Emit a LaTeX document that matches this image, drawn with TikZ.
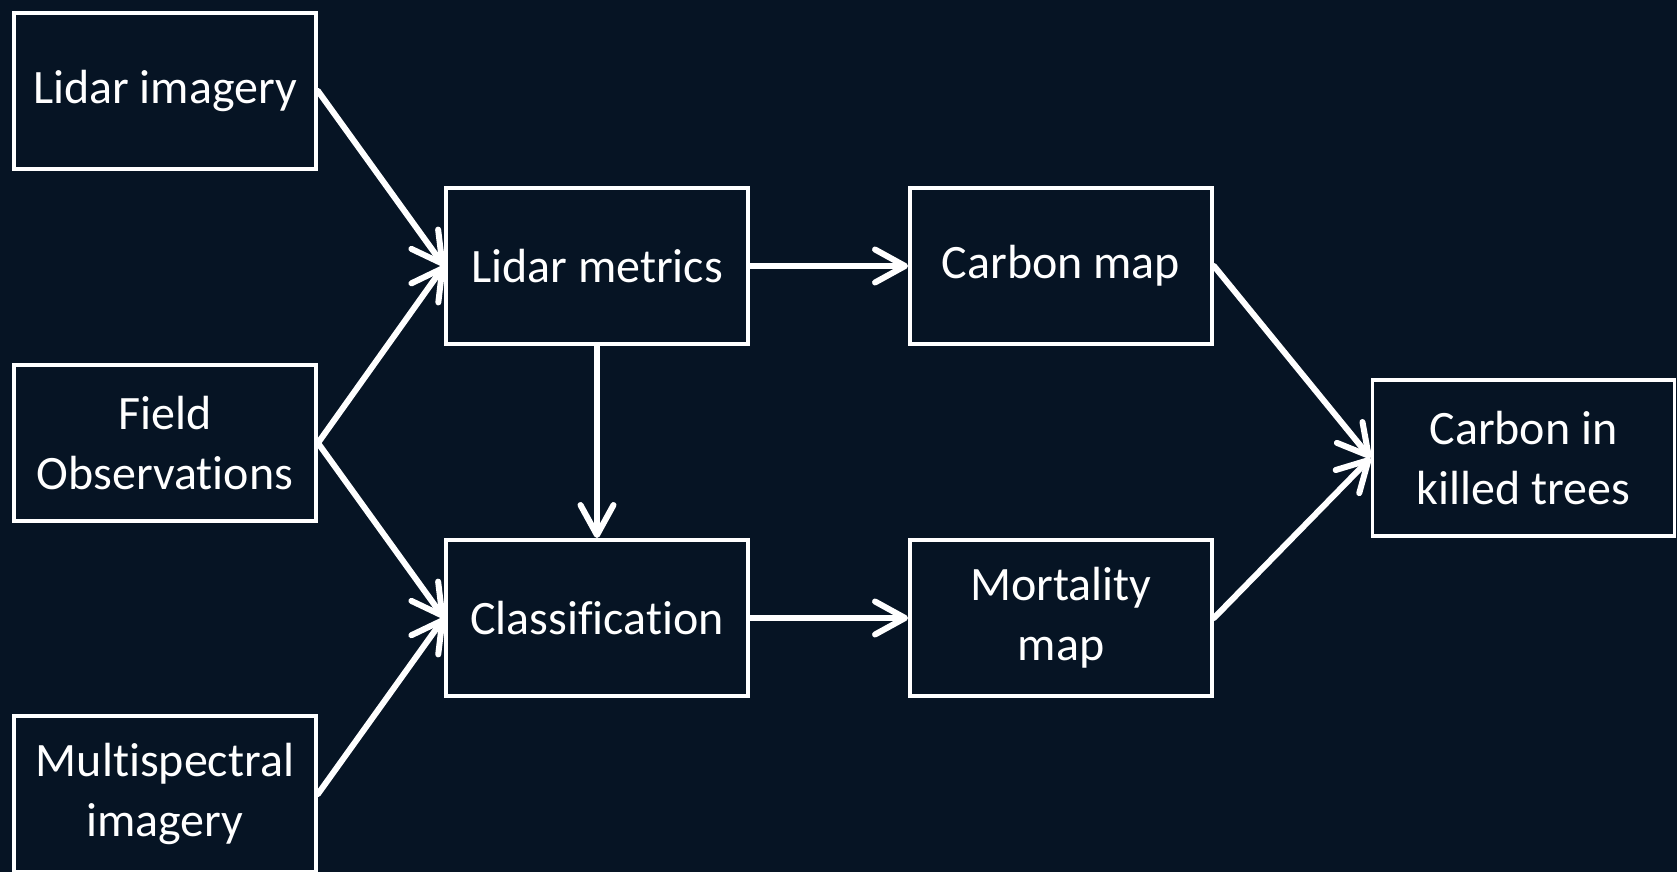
\documentclass[tikz,border=0pt]{standalone}
\usepackage{fontspec}
\setmainfont{Carlito}[Ligatures=NoCommon]
\usepackage{xcolor}
\usetikzlibrary{arrows.meta}
\definecolor{bgnavy}{RGB}{6,20,36}

\begin{document}
\begin{tikzpicture}[x=0.02cm, y=-0.02cm,
  box/.style={draw=white, line width=0.07cm, fill=bgnavy, text=white,
    minimum width=6.05cm, minimum height=3.13cm, inner sep=0pt, align=center,
    font=\fontsize{27.3}{34}\selectfont},
  flow/.style={draw=white, line width=0.12cm, line cap=round,
    -{Straight Barb[length=0.6cm, width=0.66cm, line cap=round, line join=round]}}]
\fill[bgnavy] (0,0) rectangle (1677,872);
\useasboundingbox (0,0) rectangle (1677,872);
% inputs
\node[box] (lidarimg) at (165,91) {Lidar imagery};
\node[box] (field) at (165,443) {Field\\Observations};
\node[box] (multi) at (165,794) {Multispectral\\imagery};
% products
\node[box] (metrics) at (597,266) {Lidar metrics};
\node[box] (classif) at (597,618) {Classification};
\node[box] (carbonmap) at (1061,266) {Carbon map};
\node[box] (mortality) at (1061,618) {Mortality\\map};
\node[box] (killed) at (1523.5,458) {Carbon in\\killed trees};
% edges
\foreach \a/\b in {lidarimg/metrics, field/metrics, field/classif, multi/classif,
    metrics/carbonmap, classif/mortality, carbonmap/killed, mortality/killed}
  \draw[flow] (\a.east) -- (\b.west);
\draw[flow] (metrics.south) -- (classif.north);
\end{tikzpicture}
\end{document}
